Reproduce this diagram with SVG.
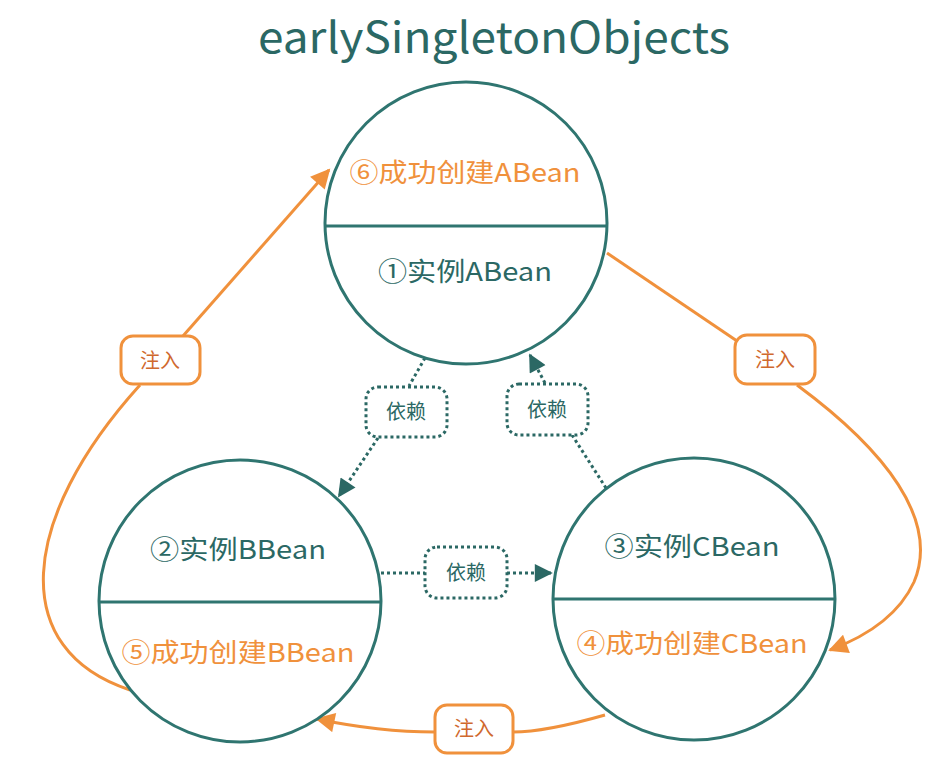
<svg xmlns="http://www.w3.org/2000/svg" width="936" height="774" viewBox="0 0 936 774">
<defs>
<style>
.t{font-family:"Noto Sans CJK SC","Noto Sans",sans-serif;text-anchor:middle}
.circ{fill:#fff;stroke:#2f7570;stroke-width:3}
.div{stroke:#2f7570;stroke-width:3}
.teal{fill:#2b6864;font-size:26px}
.or{fill:#f0913c;font-size:26px}
.inj{fill:#fff;stroke:#f0913c;stroke-width:3}
.injt{fill:#d0692e;font-size:20px}
.dep{fill:#fff;stroke:#2b6864;stroke-width:3;stroke-dasharray:3 3}
.dept{fill:#2b6864;font-size:20px}
.oc{fill:none;stroke:#f0913c;stroke-width:3}
.tc{fill:none;stroke:#2b6864;stroke-width:3;stroke-dasharray:3 3}
</style>
<marker id="ao" viewBox="0 0 10 10" refX="9" refY="5" markerWidth="7" markerHeight="6.5" orient="auto" markerUnits="strokeWidth">
<path d="M0,0 L10,5 L0,10 z" fill="#f0913c"/>
</marker>
<marker id="at" viewBox="0 0 10 10" refX="9" refY="5" markerWidth="6.5" markerHeight="6" orient="auto" markerUnits="strokeWidth">
<path d="M0,0 L10,5 L0,10 z" fill="#2b6864"/>
</marker>
</defs>
<rect width="936" height="774" fill="#fff"/>
<text class="t" x="494" y="53" font-size="43" fill="#2b6864" textLength="472" lengthAdjust="spacingAndGlyphs">earlySingletonObjects</text>

<g id="connectors">
<path class="oc" d="M607,253 L740,343"/>
<path class="oc" d="M797,385 C885,450 940,520 914,582 C898,617 862,638 830,650" marker-end="url(#ao)"/>
<path class="oc" d="M605,715 C570,725 540,732 513,732"/>
<path class="oc" d="M435,732 C400,732 360,728 317,719" marker-end="url(#ao)"/>
<path class="oc" d="M130,690 C8,650 18,520 140,385"/>
<path class="oc" d="M183,336 L329,170" marker-end="url(#ao)"/>
<path class="tc" d="M425,358 L409,386"/>
<path class="tc" d="M378,438 L339,496" marker-end="url(#at)"/>
<path class="tc" d="M545,383 L530,355" marker-end="url(#at)"/>
<path class="tc" d="M572,435 L606,488"/>
<path class="tc" d="M381,573 L425,573"/>
<path class="tc" d="M507,573 L551,573" marker-end="url(#at)"/>
</g>

<g id="nodeA">
<circle class="circ" cx="466" cy="223" r="141"/>
<line class="div" x1="325" y1="226" x2="607" y2="226"/>
<text class="t or" x="465" y="182" textLength="231" lengthAdjust="spacingAndGlyphs">⑥成功创建ABean</text>
<text class="t teal" x="465" y="281" textLength="174" lengthAdjust="spacingAndGlyphs">①实例ABean</text>
</g>
<g id="nodeB">
<circle class="circ" cx="240" cy="601" r="141"/>
<line class="div" x1="99" y1="602" x2="381" y2="602"/>
<text class="t teal" x="238" y="559" textLength="176" lengthAdjust="spacingAndGlyphs">②实例BBean</text>
<text class="t or" x="238" y="662" textLength="233" lengthAdjust="spacingAndGlyphs">⑤成功创建BBean</text>
</g>
<g id="nodeC">
<circle class="circ" cx="694" cy="599" r="141"/>
<line class="div" x1="553" y1="599" x2="835" y2="599"/>
<text class="t teal" x="692" y="556" textLength="175" lengthAdjust="spacingAndGlyphs">③实例CBean</text>
<text class="t or" x="692" y="653" textLength="231" lengthAdjust="spacingAndGlyphs">④成功创建CBean</text>
</g>

<g id="inject1">
<rect class="inj" x="121" y="336" width="79" height="48" rx="12"/>
<text class="t injt" x="160" y="368">注入</text>
</g>
<g id="inject2">
<rect class="inj" x="735" y="335" width="80" height="49" rx="12"/>
<text class="t injt" x="775" y="367">注入</text>
</g>
<g id="inject3">
<rect class="inj" x="435" y="705" width="78" height="48" rx="12"/>
<text class="t injt" x="474" y="736">注入</text>
</g>
<g id="dep1">
<rect class="dep" x="366" y="387" width="81" height="50" rx="12"/>
<text class="t dept" x="406" y="419">依赖</text>
</g>
<g id="dep2">
<rect class="dep" x="507" y="384" width="81" height="51" rx="12"/>
<text class="t dept" x="547" y="417">依赖</text>
</g>
<g id="dep3">
<rect class="dep" x="425" y="547" width="82" height="51" rx="12"/>
<text class="t dept" x="466" y="580">依赖</text>
</g>
</svg>
